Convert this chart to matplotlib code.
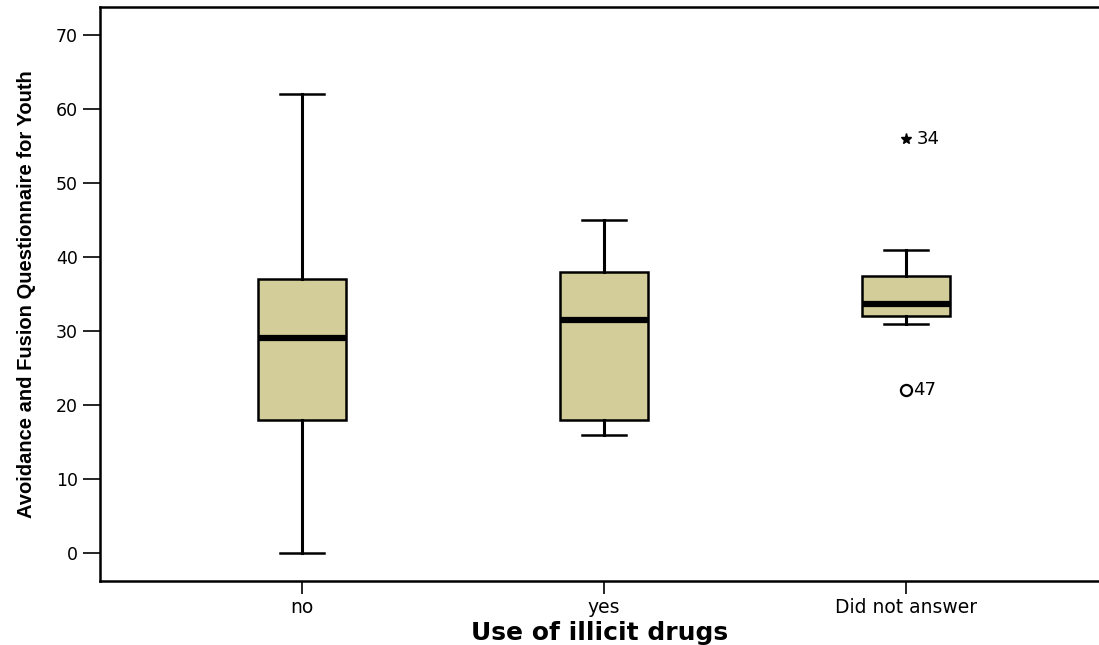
import matplotlib
matplotlib.use("Agg")
import matplotlib.pyplot as plt

# Groups and five-number summaries
categories = ["no", "yes", "Did not answer"]
whisker_low = [0, 16, 31]
q1 = [18, 18, 32]
median = [29, 31.5, 33.6]
q3 = [37, 38, 37.5]
whisker_high = [62, 45, 41]

# Flagged cases in the third group
extreme_values = [56]
extreme_ids = ["34"]
outlier_values = [22]
outlier_ids = ["47"]

y_ticks = [0, 10, 20, 30, 40, 50, 60, 70]
x_label = "Use of illicit drugs"
y_label = "Avoidance and Fusion Questionnaire for Youth"

plt.rcParams["font.family"] = ["DejaVu Sans"]

fig = plt.figure(figsize=(10.99, 6.45), dpi=100)
ax = fig.add_axes([100 / 1099, 64 / 645, 1 - 100 / 1099, 574 / 645])

fill = "#D3CE99"
stats = []
for i, name in enumerate(categories):
    stats.append(dict(label=name, whislo=whisker_low[i], q1=q1[i], med=median[i],
                      q3=q3[i], whishi=whisker_high[i], fliers=[]))

positions = list(range(len(categories)))
ax.bxp(stats, positions=positions, widths=0.29, patch_artist=True, showfliers=False,
       boxprops=dict(facecolor=fill, edgecolor="black", linewidth=1.8),
       medianprops=dict(color="black", linewidth=4.5, solid_capstyle="butt"),
       whiskerprops=dict(color="black", linewidth=2.2),
       capprops=dict(color="black", linewidth=1.8),
       capwidths=0.146)

pos = positions[2]
ax.plot([pos] * len(extreme_values), extreme_values, linestyle="none", marker="*",
        markersize=8, color="black")
ax.plot([pos] * len(outlier_values), outlier_values, linestyle="none", marker="o",
        markersize=8, markerfacecolor="none", markeredgecolor="black", markeredgewidth=1.6)
for v, t in zip(extreme_values, extreme_ids):
    ax.annotate(t, (pos, v), xytext=(8, 0), textcoords="offset points",
                va="center", ha="left", fontsize=13)
for v, t in zip(outlier_values, outlier_ids):
    ax.annotate(t, (pos, v), xytext=(5, 0), textcoords="offset points",
                va="center", ha="left", fontsize=13)

ax.set_xlim(-0.67, 2.64)
ax.set_ylim(-3.8, 73.8)
ax.set_yticks(y_ticks)
ax.set_xticks(positions)
ax.set_xticklabels(categories)

for side in ["left", "top", "bottom"]:
    ax.spines[side].set_linewidth(1.8)
ax.spines["right"].set_visible(False)
ax.tick_params(axis="y", length=12, width=1.2, labelsize=12.5, pad=4)
ax.tick_params(axis="x", length=9, width=1.2, labelsize=13.5, pad=3)

ax.set_xlabel(x_label, fontsize=18, fontweight="bold", labelpad=3)
ax.set_ylabel(y_label, fontsize=14.5, fontweight="bold",
              family=["Liberation Sans", "DejaVu Sans"], labelpad=14)

fig.savefig("out.png", dpi=100)
